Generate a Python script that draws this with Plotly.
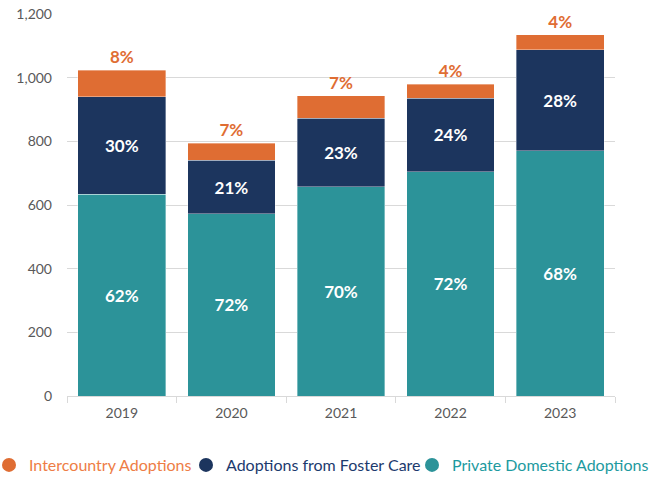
import plotly.graph_objects as go

years = ["2019", "2020", "2021", "2022", "2023"]
private_domestic = [634, 573, 658, 705, 770]
foster_care = [306, 167, 215, 231, 318]
intercountry = [84, 54, 70, 44, 47]

totals = [a + b + c for a, b, c in zip(private_domestic, foster_care, intercountry)]

def pct(vals):
    return [f"{round(v / t * 100)}%" for v, t in zip(vals, totals)]

C_ORANGE = "#DF6D33"
C_NAVY = "#1C355E"
C_TEAL = "#2C9399"
FONT = "Lato, 'Open Sans', sans-serif"
W, H = 652, 477
ML, MR, MT, MB = 67, 37, 14, 81
PW, PH = W - ML - MR, H - MT - MB

fig = go.Figure()
common = dict(marker_line_width=0.6, marker_line_color="rgba(255,255,255,0.6)",
              showlegend=False, constraintext="none", cliponaxis=False,
              textangle=0)
fig.add_trace(go.Bar(x=years, y=private_domestic, name="Private Domestic Adoptions",
                     marker_color=C_TEAL, text=pct(private_domestic),
                     textposition="inside", insidetextanchor="middle",
                     textfont=dict(color="white", size=17, family=FONT, weight="bold"),
                     **common))
fig.add_trace(go.Bar(x=years, y=foster_care, name="Adoptions from Foster Care",
                     marker_color=C_NAVY, text=pct(foster_care),
                     textposition="inside", insidetextanchor="middle",
                     textfont=dict(color="white", size=17, family=FONT, weight="bold"),
                     **common))
fig.add_trace(go.Bar(x=years, y=intercountry, name="Intercountry Adoptions",
                     marker_color=C_ORANGE, text=pct(intercountry),
                     textposition="outside",
                     outsidetextfont=dict(color=C_ORANGE, size=17, family=FONT, weight="bold"),
                     **common))

# legend entries with circle markers, one legend each so text can be coloured
legend_items = [("Intercountry Adoptions", C_ORANGE, "#EE7D45", "legend", 9),
                ("Adoptions from Foster Care", C_NAVY, "#1C3A6E", "legend2", 206),
                ("Private Domestic Adoptions", C_TEAL, "#1D9AA0", "legend3", 432)]
legend_layouts = {}
for name, col, tcol, lg, mx in legend_items:
    fig.add_trace(go.Scatter(x=[None], y=[None], mode="markers", name=name,
                             marker=dict(color=col, size=14, symbol="circle"),
                             legend=lg, showlegend=True))
    legend_layouts[lg] = dict(orientation="h",
                              x=(mx - 20 - ML) / PW, xanchor="left",
                              y=-(465 - (H - MB)) / PH, yanchor="middle",
                              bgcolor="rgba(0,0,0,0)",
                              font=dict(size=16, color=tcol, family=FONT))

fig.update_layout(
    barmode="stack",
    bargap=0.2,
    width=W, height=H,
    margin=dict(l=ML, r=MR, t=MT, b=MB, autoexpand=False),
    plot_bgcolor="white", paper_bgcolor="white",
    font=dict(family=FONT, color="#595959", size=14),
    xaxis=dict(type="category", showgrid=False, showline=True, linecolor="#d9d9d9",
               linewidth=1, ticks="outside", tickson="boundaries", tickcolor="#d9d9d9",
               ticklen=6, ticklabelstandoff=4, tickfont=dict(size=14, color="#595959")),
    yaxis=dict(range=[0, 1200], dtick=200, tickformat=",", showgrid=True,
               gridcolor="#d9d9d9", gridwidth=1, zeroline=False, showline=False,
               ticks="", ticklabelstandoff=14, tickfont=dict(size=14, color="#595959")),
    **legend_layouts,
)

fig.write_html("out.html", config={"displayModeBar": False},
               post_script="document.body.style.margin='0';")
